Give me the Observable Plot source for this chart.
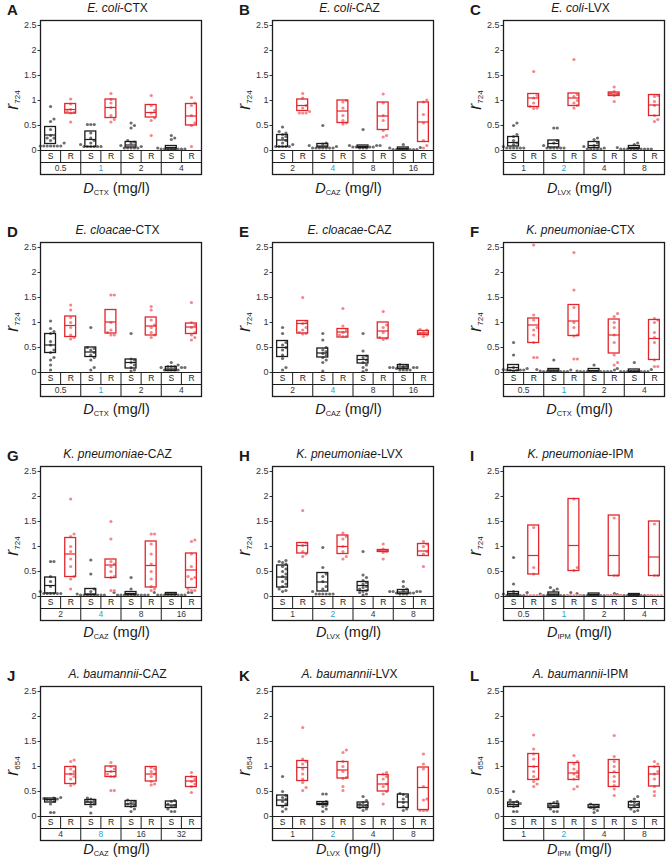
<!DOCTYPE html>
<html><head><meta charset="utf-8">
<script src="https://cdn.jsdelivr.net/npm/d3@7"></script>
<script src="https://cdn.jsdelivr.net/npm/@observablehq/plot@0.6"></script>
<style>
body{margin:0;background:#fff;font-family:'Liberation Sans',Arial,sans-serif;}
#chart{position:relative;width:667px;height:861px;overflow:hidden;background:#fff}
.panel{position:absolute;width:204px;height:200px}
.panel svg{position:absolute;left:0;top:0}
.lab{position:absolute;white-space:nowrap;line-height:1;color:#1a1a1a}
.letter{font-weight:bold;font-size:15px;transform:translateY(-50%)}
.title{font-size:12px;transform:translate(-50%,-50%)}
.ylab{font-size:18px;transform:translate(-50%,-50%) rotate(-90deg)}
.ylab sub{font-size:8px;vertical-align:-2px;font-style:normal;line-height:1}
.xlab{font-size:14.5px;transform:translate(-50%,-50%)}
.xlab sub{font-size:7.5px;vertical-align:-2px;line-height:1}
</style>
</head><body>
<div id="chart"></div>
<script>
const panelLetters = ["A","B","C","D","E","F","G","H","I","J","K","L"];
const species = ["E. coli","E. coli","E. coli","E. cloacae","E. cloacae","K. pneumoniae","K. pneumoniae","K. pneumoniae","K. pneumoniae","A. baumannii","A. baumannii","A. baumannii"];
const drugs = ["CTX","CAZ","LVX","CTX","CAZ","CTX","CAZ","LVX","IPM","CAZ","LVX","IPM"];
const rSubs = ["724","724","724","724","724","724","724","724","724","654","654","654"];
const doseLabels = [
  ["0.5","1","2","4"],["2","4","8","16"],["1","2","4","8"],
  ["0.5","1","2","4"],["2","4","8","16"],["0.5","1","2","4"],
  ["2","4","8","16"],["1","2","4","8"],["0.5","1","2","4"],
  ["4","8","16","32"],["1","2","4","8"],["1","2","4","8"]
];
const groupLabels = ["S","R"];
const yTicks = [0,0.5,1,1.5,2,2.5];

// boxes: [q1, median, q3] for S1,R1,S2,R2,S3,R3,S4,R4
const boxesA = [[0.13,0.31,0.47],[0.74,0.82,0.93],[0.07,0.22,0.38],[0.65,0.86,1.02],[0.06,0.11,0.17],[0.66,0.76,0.91],[0.02,0.06,0.09],[0.5,0.69,0.93]];
const pointsA = [
 [0.88,0.63,0.58,0.42,0.3,0.25,0.25,0.2,0.15,0.09,0.09,0.09,0.09,0.09,0.09,0.09],
 [1.03,0.93,0.82,0.78,0.76,0.75,0.57],
 [0.52,0.52,0.52,0.35,0.25,0.2,0.15,0.12,0.08,0.08,0.08,0.08,0.08,0.08],
 [1.14,1.02,0.95,0.86,0.7,0.62,0.57],
 [0.55,0.5,0.45,0.2,0.17,0.15,0.1,0.08,0.05,0.05,0.05,0.05,0.05],
 [1.1,0.9,0.8,0.75,0.65,0.6,0.3],
 [0.3,0.25,0.22,0.05,0.03,0.03,0.03,0.03,0.03,0.03,0.03,0.03],
 [1.06,0.95,0.9,0.7,0.55,0.5,0.08]];
const boxesB = [[0.07,0.21,0.31],[0.79,0.9,1.02],[0.06,0.09,0.13],[0.55,0.79,1.0],[0.05,0.08,0.1],[0.41,0.69,0.96],[0.02,0.04,0.06],[0.17,0.57,0.96]];
const pointsB = [
 [0.47,0.38,0.35,0.32,0.28,0.25,0.2,0.15,0.12,0.08,0.08,0.08,0.08,0.08],
 [1.14,1.05,0.9,0.85,0.78,0.75,0.75,0.75],
 [0.5,0.15,0.13,0.1,0.08,0.05,0.05,0.05,0.05,0.05,0.05,0.05],
 [1.0,0.97,0.85,0.7,0.6,0.55,0.53],
 [0.42,0.1,0.1,0.1,0.07,0.07,0.07,0.07,0.05,0.05,0.05],
 [1.13,0.95,0.7,0.6,0.4,0.3,0.27],
 [0.12,0.06,0.05,0.02,0.02,0.02,0.02,0.02,0.02,0.02,0.02],
 [1.01,0.97,0.72,0.55,0.2,0.1,0.05]];
const boxesC = [[0.08,0.16,0.27],[0.87,1.05,1.13],[0.06,0.14,0.2],[0.89,1.05,1.14],[0.05,0.1,0.17],[1.09,1.13,1.16],[0.03,0.06,0.09],[0.69,0.91,1.11]];
const pointsC = [
 [0.55,0.5,0.32,0.28,0.2,0.15,0.12,0.08,0.05,0.05,0.05,0.05,0.05,0.05],
 [1.58,1.1,1.05,0.95,0.88,0.85,0.84],
 [0.45,0.45,0.2,0.15,0.1,0.05,0.05,0.05,0.05,0.05,0.05],
 [1.82,1.12,1.08,1.0,0.95,0.9,0.85],
 [0.25,0.22,0.15,0.1,0.08,0.05,0.03,0.03,0.03,0.03,0.03],
 [1.27,1.18,1.15,1.13,1.1,0.98],
 [0.15,0.12,0.06,0.03,0.03,0.03,0.03,0.03,0.03,0.03,0.03,0.03,0.03],
 [1.1,1.08,0.98,0.9,0.7,0.62,0.58]];
const boxesD = [[0.39,0.55,0.77],[0.71,0.94,1.12],[0.31,0.41,0.5],[0.78,1.01,1.25],[0.08,0.2,0.26],[0.74,0.93,1.1],[0.03,0.07,0.11],[0.77,0.91,0.98]];
const pointsD = [
 [1.03,0.88,0.82,0.78,0.62,0.55,0.45,0.4,0.3,0.25,0.15,0.05],
 [1.35,1.25,1.1,1.0,0.9,0.75,0.7,0.67],
 [0.9,0.5,0.48,0.45,0.4,0.35,0.3,0.25,0.1,0.05],
 [1.55,1.55,1.0,0.85,0.8,0.75,0.75],
 [0.78,0.27,0.25,0.2,0.15,0.1,0.05,0.03],
 [1.32,1.25,1.05,0.95,0.9,0.8,0.75,0.7],
 [0.2,0.15,0.12,0.12,0.12,0.1,0.1,0.1,0.05,0.05,0.05,0.05,0.05],
 [1.4,1.0,0.95,0.9,0.8,0.75,0.7,0.65]];
const boxesE = [[0.31,0.5,0.63],[0.78,0.98,1.03],[0.3,0.39,0.48],[0.7,0.81,0.87],[0.18,0.26,0.33],[0.68,0.83,1.0],[0.07,0.11,0.15],[0.75,0.79,0.83]];
const pointsE = [
 [0.9,0.78,0.6,0.55,0.5,0.45,0.35,0.28,0.1,0.05],
 [1.5,1.02,0.98,0.9,0.85,0.8,0.78,0.77],
 [0.78,0.65,0.5,0.45,0.42,0.38,0.35,0.3,0.25,0.2,0.03],
 [1.28,0.93,0.85,0.8,0.75,0.72,0.72],
 [0.78,0.43,0.33,0.3,0.25,0.2,0.15,0.1,0.05,0.02],
 [1.22,0.95,0.9,0.8,0.7,0.68,0.66],
 [0.16,0.14,0.12,0.1,0.1,0.1,0.1,0.08,0.05,0.05,0.05,0.05],
 [0.86,0.85,0.8,0.78,0.75,0.72]];
const boxesF = [[0.03,0.1,0.15],[0.59,0.95,1.08],[0.02,0.05,0.07],[0.73,1.03,1.35],[0.02,0.04,0.07],[0.38,0.75,1.06],[0.01,0.03,0.06],[0.25,0.68,1.05]];
const pointsF = [
 [0.6,0.35,0.1,0.08,0.06,0.05,0.05,0.05,0.05,0.05,0.03],
 [2.55,1.15,1.05,0.9,0.85,0.75,0.6,0.3,0.3],
 [0.25,0.06,0.05,0.03,0.02,0.02,0.02,0.02,0.02,0.02,0.02,0.02],
 [2.4,1.65,1.3,1.0,0.9,0.75,0.73,0.27,0.27],
 [0.15,0.05,0.03,0.02,0.02,0.02,0.02,0.02,0.02,0.02,0.02,0.02,0.02],
 [1.18,1.12,1.0,0.9,0.75,0.6,0.35,0.2,0.15],
 [0.2,0.08,0.06,0.02,0.02,0.02,0.02,0.02,0.02,0.02,0.02,0.02],
 [1.08,1.05,1.0,0.8,0.7,0.6,0.25,0.12,0.12]];
const boxesG = [[0.06,0.22,0.38],[0.39,0.85,1.17],[0.03,0.05,0.15],[0.37,0.63,0.74],[0.03,0.06,0.09],[0.18,0.62,1.1],[0.03,0.05,0.07],[0.17,0.53,0.86]];
const pointsG = [
 [0.7,0.7,0.4,0.3,0.2,0.1,0.06,0.06,0.06,0.06,0.06,0.06],
 [1.95,1.25,1.2,1.0,0.9,0.75,0.6,0.4,0.35,0.15],
 [0.73,0.45,0.15,0.1,0.05,0.03,0.03,0.03,0.03,0.03,0.03,0.03,0.03],
 [1.5,1.15,0.7,0.65,0.6,0.5,0.4,0.38,0.12,0.12],
 [0.38,0.15,0.08,0.03,0.03,0.03,0.03,0.03,0.03,0.03,0.03,0.03,0.03],
 [1.25,1.25,1.05,0.85,0.65,0.5,0.35,0.2,0.15,0.12],
 [0.08,0.08,0.08,0.03,0.03,0.03,0.03,0.03,0.03,0.03,0.03,0.03],
 [1.13,1.1,0.85,0.6,0.4,0.38,0.35,0.15,0.12,0.12]];
const boxesH = [[0.18,0.39,0.62],[0.86,1.02,1.07],[0.1,0.29,0.47],[0.85,1.0,1.22],[0.11,0.22,0.29],[0.89,0.91,0.93],[0.05,0.09,0.13],[0.81,0.91,1.05]];
const pointsH = [
 [0.72,0.7,0.68,0.65,0.6,0.55,0.5,0.45,0.4,0.35,0.3,0.25,0.2,0.15,0.12,0.1],
 [1.72,1.07,1.02,0.9,0.85,0.8],
 [0.98,0.58,0.45,0.4,0.3,0.2,0.15,0.1,0.05,0.05,0.05,0.05,0.05,0.05],
 [1.27,1.2,1.15,1.0,0.9,0.8,0.75],
 [0.9,0.43,0.38,0.32,0.28,0.25,0.2,0.18,0.15,0.12,0.1,0.08,0.05,0.03],
 [1.05,0.95,0.92,0.9,0.88,0.75],
 [0.3,0.2,0.15,0.12,0.1,0.1,0.1,0.1,0.07,0.07,0.07,0.05,0.05,0.05],
 [1.1,1.05,1.0,0.9,0.85,0.6]];
const boxesI = [[0.02,0.06,0.09],[0.44,0.82,1.42],[0.02,0.05,0.08],[0.51,1.02,1.95],[0.02,0.04,0.06],[0.41,0.82,1.62],[0.02,0.03,0.05],[0.41,0.79,1.5]];
const pointsI = [
 [0.78,0.25,0.1,0.08,0.05,0.02,0.02,0.02,0.02,0.02,0.02],
 [1.38,0.58,0.45,0.02,0.02,0.02,0.02,0.02],
 [0.18,0.15,0.12,0.08,0.05,0.02,0.02,0.02,0.02,0.02,0.02,0.02,0.02],
 [1.95,0.58,0.52,0.02,0.02,0.02,0.02,0.02],
 [0.06,0.06,0.02,0.02,0.02,0.02,0.02,0.02,0.02,0.02,0.02,0.02],
 [1.57,0.42,0.42,0.02,0.02,0.02,0.02,0.02],
 [0.04,0.02,0.02,0.02,0.02,0.02,0.02,0.02,0.02,0.02,0.02],
 [1.45,0.42,0.42,0.02,0.02,0.02,0.02,0.02]];
const boxesJ = [[0.28,0.34,0.36],[0.65,0.85,0.99],[0.23,0.29,0.33],[0.79,0.9,1.0],[0.19,0.25,0.31],[0.7,0.85,0.99],[0.17,0.23,0.3],[0.59,0.71,0.79]];
const pointsJ = [
 [0.38,0.37,0.36,0.35,0.34,0.33,0.3,0.25,0.08,0.08],
 [1.13,1.1,1.0,0.95,0.9,0.85,0.8,0.75,0.65,0.62],
 [0.37,0.35,0.33,0.3,0.28,0.25,0.2,0.07],
 [1.08,1.0,0.95,0.9,0.85,0.8,0.8,0.52,0.52],
 [0.33,0.3,0.28,0.25,0.22,0.2,0.15,0.1],
 [0.98,0.95,0.9,0.85,0.8,0.7,0.65,0.63],
 [0.32,0.3,0.25,0.22,0.2,0.15,0.1,0.1],
 [0.88,0.8,0.75,0.7,0.65,0.6,0.48]];
const boxesK = [[0.21,0.33,0.42],[0.71,0.98,1.11],[0.23,0.26,0.29],[0.76,0.93,1.09],[0.17,0.23,0.28],[0.5,0.65,0.83],[0.17,0.29,0.44],[0.13,0.58,0.98]];
const pointsK = [
 [0.8,0.5,0.42,0.38,0.35,0.3,0.25,0.2,0.15,0.1],
 [1.78,1.15,1.1,1.05,0.95,0.85,0.75,0.68,0.58,0.52],
 [0.45,0.45,0.3,0.28,0.25,0.22,0.2,0.15,0.1],
 [1.33,1.28,1.1,1.0,0.9,0.78,0.76,0.6,0.52],
 [0.4,0.32,0.28,0.25,0.22,0.2,0.18,0.15,0.12],
 [0.88,0.85,0.8,0.75,0.65,0.6,0.5,0.45,0.25],
 [0.46,0.44,0.4,0.35,0.28,0.2,0.15,0.12],
 [1.25,1.05,0.95,0.6,0.35,0.33,0.12,0.12,0.12]];
const boxesL = [[0.19,0.24,0.28],[0.73,1.0,1.25],[0.17,0.21,0.25],[0.73,0.87,1.07],[0.17,0.19,0.23],[0.59,0.88,1.13],[0.17,0.23,0.29],[0.6,0.85,0.99]];
const pointsL = [
 [0.5,0.33,0.3,0.28,0.26,0.25,0.22,0.2,0.1,0.1],
 [1.63,1.35,1.25,1.15,1.0,0.9,0.8,0.75,0.7,0.65,0.6],
 [0.3,0.28,0.25,0.22,0.2,0.15,0.1,0.1],
 [1.22,1.1,1.05,0.95,0.9,0.85,0.8,0.75,0.6,0.55],
 [0.25,0.22,0.2,0.18,0.15,0.12,0.08],
 [1.62,1.2,1.1,1.0,0.9,0.8,0.7,0.62,0.55,0.42],
 [0.4,0.35,0.3,0.28,0.25,0.2,0.15,0.12,0.1],
 [1.1,1.05,1.0,0.9,0.85,0.75,0.6,0.5,0.42]];

const allBoxes = [boxesA,boxesB,boxesC,boxesD,boxesE,boxesF,boxesG,boxesH,boxesI,boxesJ,boxesK,boxesL];
const allPoints = [pointsA,pointsB,pointsC,pointsD,pointsE,pointsF,pointsG,pointsH,pointsI,pointsJ,pointsK,pointsL];

// layout
const W = 204, H = 200, ML = 40, MR = 3, MT = 20, MB = 26;
const colLeft = [0, 232, 463], rowTop = [0, 222, 446, 666];
const xlabTop = [189, 188, 187, 184];
const yDomain = [-0.48, 2.6], rowH = 0.24;
const PXX = (W - ML - MR) / 8, PXY = (H - MT - MB) / (yDomain[1] - yDomain[0]);
const DOT = 3.4, BOXHALF = 0.27;
const cS = "#1c1c1c", cR = "#e3262b", dotS = "#6e6e6e", dotR = "#f3878b", hiDose = "#27a4d4";
const FONT = "'Liberation Sans', Arial, sans-serif";

function swarm(vals, center) {
  const sorted = [...vals].sort((a, b) => a - b);
  const placed = [];
  for (const v of sorted) {
    for (let s = 0; s < 60; s++) {
      const k = s === 0 ? 0 : (s % 2 ? 1 : -1) * Math.ceil(s / 2);
      if (!placed.some(p => p.k === k && Math.abs(p.v - v) * PXY < DOT)) { placed.push({k, v}); break; }
    }
  }
  return placed.map(p => ({x: center + p.k * DOT / PXX, y: p.v}));
}

const chart = document.getElementById("chart");
panelLetters.forEach((letter, p) => {
  const row = Math.floor(p / 3);
  const div = document.createElement("div");
  div.className = "panel";
  div.style.left = colLeft[p % 3] + "px";
  div.style.top = rowTop[row] + "px";
  const boxData = allBoxes[p].map((b, i) => ({x1: i + 0.5 - BOXHALF, x2: i + 0.5 + BOXHALF, q1: b[0], med: b[1], q3: b[2], g: i % 2}));
  const dotData = allPoints[p].flatMap((vals, i) => swarm(vals, i + 0.5).map(o => ({...o, g: i % 2})));
  const srData = d3.range(8).map(i => ({x: i + 0.5, t: groupLabels[i % 2]}));
  const doseData = doseLabels[p].map((t, i) => ({x: 2 * i + 1, t, hi: i === 1}));
  const srDiv = doseLabels[p].map((_, i) => 2 * i + 1);
  const doseDiv = doseLabels[p].slice(1).map((_, i) => 2 * (i + 1));
  const svg = Plot.plot({
    width: W, height: H, marginLeft: ML, marginRight: MR, marginTop: MT, marginBottom: MB,
    style: {fontFamily: FONT, color: "#1c1c1c", background: "transparent", overflow: "visible"},
    x: {domain: [0, 8], axis: null},
    y: {domain: yDomain, axis: null},
    marks: [
      Plot.axisY({ticks: yTicks, tickSize: 2.5, tickPadding: 1.5, tickFormat: d => String(d), fontSize: 9, label: null, anchor: "left", fill: "#333", stroke: "#333"}),
      Plot.dot(dotData.filter(d => d.g === 0), {x: "x", y: "y", r: 1.6, fill: dotS}),
      Plot.dot(dotData.filter(d => d.g === 1), {x: "x", y: "y", r: 1.6, fill: dotR}),
      Plot.rect(boxData.filter(d => d.g === 0), {x1: "x1", x2: "x2", y1: "q1", y2: "q3", fill: "none", stroke: cS, strokeWidth: 1.3}),
      Plot.ruleY(boxData.filter(d => d.g === 0), {x1: "x1", x2: "x2", y: "med", stroke: cS, strokeWidth: 1.2}),
      Plot.rect(boxData.filter(d => d.g === 1), {x1: "x1", x2: "x2", y1: "q1", y2: "q3", fill: "none", stroke: cR, strokeWidth: 1.3}),
      Plot.ruleY(boxData.filter(d => d.g === 1), {x1: "x1", x2: "x2", y: "med", stroke: cR, strokeWidth: 1.2}),
      Plot.ruleY([0, -rowH], {stroke: "#1c1c1c", strokeWidth: 1.1}),
      Plot.ruleX(srDiv, {y1: -rowH, y2: 0, stroke: "#1c1c1c", strokeWidth: 1}),
      Plot.ruleX(doseDiv, {y1: yDomain[0], y2: 0, stroke: "#1c1c1c", strokeWidth: 1}),
      Plot.frame({stroke: "#1c1c1c", strokeWidth: 1.3}),
      Plot.text(srData, {x: "x", y: -rowH / 2, text: "t", fontSize: 8.5, fill: "#222"}),
      Plot.text(doseData.filter(d => !d.hi), {x: "x", y: -1.5 * rowH, text: "t", fontSize: 8.5, fill: "#333"}),
      Plot.text(doseData.filter(d => d.hi), {x: "x", y: -1.5 * rowH, text: "t", fontSize: 8.5, fill: hiDose})
    ]
  });
  div.appendChild(svg);
  const cx = ML + (W - ML - MR) / 2;
  div.insertAdjacentHTML("beforeend",
    `<div class="lab letter" style="left:7px;top:9px">${letter}</div>` +
    `<div class="lab title" style="left:${cx - 3}px;top:8px"><i>${species[p]}</i>-${drugs[p]}</div>` +
    `<div class="lab ylab" style="left:12px;top:100px"><i>r</i><sub>${rSubs[p]}</sub></div>` +
    `<div class="lab xlab" style="left:${cx - 4}px;top:${xlabTop[row]}px"><i>D</i><sub>${drugs[p]}</sub> (mg/l)</div>`);
  chart.appendChild(div);
});
</script>
</body></html>
